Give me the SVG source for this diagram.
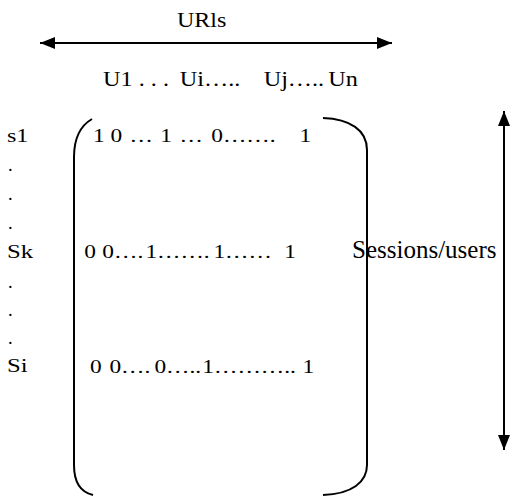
<svg xmlns="http://www.w3.org/2000/svg" width="510" height="497" viewBox="0 0 510 497">
<defs>
<marker id="ah" viewBox="0 0 15 12" refX="15" refY="6" markerWidth="15" markerHeight="12" markerUnits="userSpaceOnUse" orient="auto-start-reverse">
<path d="M0,0 L15,6 L0,12 Z" fill="#000"/>
</marker>
</defs>
<rect width="510" height="497" fill="#fff"/>
<g id="connectors" stroke="#000" stroke-width="2" fill="none">
<line x1="40" y1="43" x2="392" y2="43" marker-start="url(#ah)" marker-end="url(#ah)"/>
<line x1="504" y1="111" x2="504" y2="450" marker-start="url(#ah)" marker-end="url(#ah)"/>
</g>
<g id="urls-label">
<text font-family="Liberation Serif" font-size="20" x="0" y="0" transform="translate(177,27) scale(1.2,1)">URls</text>
</g>
<g id="url-header">
<text font-family="Liberation Serif" font-size="22" xml:space="preserve" x="0" y="0" transform="translate(102,86) scale(1.1,1)"><tspan x="1">U1 . . . </tspan><tspan x="70.7">Ui…..</tspan><tspan x="147">Uj…..</tspan><tspan x="205.7">Un</tspan></text>
</g>
<g id="row-labels">
<text font-family="Liberation Serif" font-size="18.5" x="0" y="0" transform="translate(7,142) scale(1.3,1)">s1</text>
<text font-family="Liberation Serif" font-size="18.5" x="8" y="171">.</text>
<text font-family="Liberation Serif" font-size="18.5" x="8" y="200">.</text>
<text font-family="Liberation Serif" font-size="18.5" x="8" y="229">.</text>
<text font-family="Liberation Serif" font-size="19" x="0" y="0" transform="translate(7,258) scale(1.3,1)">Sk</text>
<text font-family="Liberation Serif" font-size="18.5" x="8" y="288">.</text>
<text font-family="Liberation Serif" font-size="18.5" x="8" y="316">.</text>
<text font-family="Liberation Serif" font-size="18.5" x="8" y="344">.</text>
<text font-family="Liberation Serif" font-size="19" x="0" y="0" transform="translate(7,372) scale(1.3,1)">Si</text>
</g>
<g id="matrix">
<path stroke="#000" stroke-width="2" fill="none" d="M92,119 C80,126 74,140 74,157 L74,465 C74,482 80,492 93,495"/>
<path stroke="#000" stroke-width="2" fill="none" d="M323,118 C350,119 367,130 367,150 L367,465 C367,482 352,494 323,495"/>
<text font-family="Liberation Serif" font-size="18" xml:space="preserve" x="0" y="0" transform="translate(93,142) scale(1.3,1)"><tspan x="0">1 0 </tspan><tspan x="28">… </tspan><tspan x="51.8">1 </tspan><tspan x="66.5">… </tspan><tspan x="91">0…….</tspan><tspan x="158.8">1</tspan></text>
<text font-family="Liberation Serif" font-size="18" xml:space="preserve" x="0" y="0" transform="translate(83,258) scale(1.3,1)"><tspan x="1">0 </tspan><tspan x="14.9">0….</tspan><tspan x="48">1…….</tspan><tspan x="100.3">1…… </tspan><tspan x="154.9">1</tspan></text>
<text font-family="Liberation Serif" font-size="18" xml:space="preserve" x="0" y="0" transform="translate(89,373) scale(1.3,1)"><tspan x="0.8">0 </tspan><tspan x="15.7">0….</tspan><tspan x="50.3">0…..</tspan><tspan x="87.2">1………..</tspan><tspan x="164.2">1</tspan></text>
</g>
<g id="sessions-label">
<text font-family="Liberation Serif" font-size="25" x="352" y="258">Sessions/users</text>
</g>
</svg>
